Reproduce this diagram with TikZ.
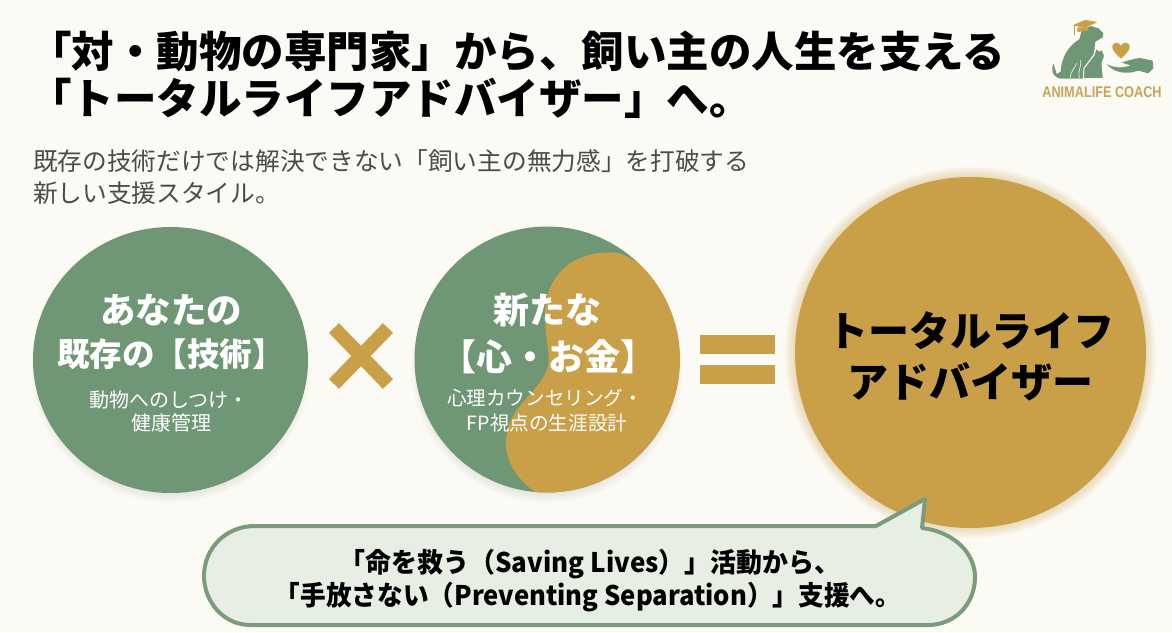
\documentclass[tikz,border=0pt]{standalone}
\usepackage{fontspec}
\usetikzlibrary{shapes.geometric}
\setmainfont{Noto Sans CJK JP}
\newfontfamily\logofont{Liberation Sans}
\newcommand{\fs}[1]{\fontsize{#1}{#1}\selectfont}
\begin{document}
\begin{tikzpicture}[x=1pt,y=1pt,
	disc/.style={ellipse,inner sep=0pt,outer sep=0pt},
	label/.style={inner sep=0pt,outer sep=0pt,anchor=center},
	softshadow/.style={fill=black,fill opacity=0.013},
	halo/.style={fill=goldColor,fill opacity=0.05}]
\definecolor{paperColor}{RGB}{252,250,245}
\definecolor{greenColor}{RGB}{111,151,118}
\definecolor{goldColor}{RGB}{201,160,72}
\definecolor{bubbleColor}{RGB}{231,238,228}
\definecolor{edgeColor}{RGB}{124,155,125}
\definecolor{greyColor}{RGB}{75,75,75}
\definecolor{logoGold}{RGB}{200,164,90}

\path[use as bounding box,fill=paperColor] (0,0) rectangle (1172,632);

% heading
\node[label,anchor=base west] (headone) at (29.00,564.50) {\fs{42.5}\bfseries 「対・動物の専門家」から、飼い主の人生を支える};
\node[label,anchor=base west] (headtwo) at (29.00,517.00) {\fs{42.5}\bfseries 「トータルライフアドバイザー」へ。};
\node[label,anchor=base west,text=greyColor] (subone) at (33.00,461.00) {\fs{24.7}既存の技術だけでは解決できない「飼い主の無力感」を打破する};
\node[label,anchor=base west,text=greyColor] (subtwo) at (33.00,429.00) {\fs{24.7}新しい支援スタイル。};

% shadows
\foreach \r in {0,1.5,...,15} {
	\fill[softshadow] (170.5,265) ellipse ({125+\r} and {121+\r});
	\fill[softshadow] (547,265) circle ({121+\r});
}
\foreach \r in {1,2.5,...,10} {
	\fill[halo] (970.5,279.5) circle ({175.5+\r});
}

% discs
\node[disc,fill=greenColor,minimum width=275pt,minimum height=266pt] (techdisc) at (170.50,272.00) {};
\node[disc,fill=greenColor,minimum width=265pt,minimum height=266pt] (newdisc) at (547.00,272.50) {};
\begin{scope}
\clip (547,272.5) circle (133);
\fill[goldColor] (633,372) .. controls (620,381) and (610,380) .. (600,379)
	.. controls (570,376) and (546,355) .. (545,320)
	.. controls (544,295) and (552,275) .. (547,262)
	.. controls (535,235) and (507,225) .. (506,190)
	.. controls (505,165) and (525,145) .. (543,135)
	-- (700,130) -- (700,372) -- cycle;
\end{scope}
\node[disc,fill=goldColor,minimum width=351pt,minimum height=351pt] (totaldisc) at (970.50,279.50) {};

% times and equals
\draw[goldColor,line width=14pt] (334,304) -- (388,248);
\draw[goldColor,line width=14pt] (334,248) -- (388,304);
\fill[goldColor] (700,278) rectangle (775,297);
\fill[goldColor] (700,248) rectangle (775,267);

% disc texts
\node[label,text=white] (techheadone) at (171.00,322.00) {\fs{35.5}\bfseries あなたの};
\node[label,text=white] (techheadtwo) at (171.00,278.00) {\fs{32.5}\bfseries 既存の【技術】};
\node[label,text=white] (techsubone) at (169.00,232.00) {\fs{20}動物へのしつけ・};
\node[label,text=white] (techsubtwo) at (171.00,209.00) {\fs{20}健康管理};
\node[label,text=white] (newheadone) at (547.00,322.00) {\fs{36}\bfseries 新たな};
\node[label,text=white] (newheadtwo) at (548.00,275.00) {\fs{36}\bfseries 【心・お金】};
\node[label,text=white] (newsubone) at (545.00,234.00) {\fs{19.6}心理カウンセリング・};
\node[label,text=white] (newsubtwo) at (547.00,209.00) {\fs{19.6}FP視点の生涯設計};
\node[label] (totalheadone) at (971.00,301.00) {\fs{41}\bfseries トータルライフ};
\node[label] (totalheadtwo) at (970.00,250.00) {\fs{41}\bfseries アドバイザー};

% speech bubble
\draw[edgeColor,line width=4pt,fill=bubbleColor,line join=round] (255,106) -- (876,106)
	-- (925,133) -- (922,104)
	.. controls (955,100) and (975,78) .. (975,55)
	.. controls (975,28) and (955,7) .. (928,7)
	-- (250,7)
	.. controls (224,7) and (204,30) .. (204,56)
	.. controls (204,84) and (226,106) .. (255,106) -- cycle;
\node[label,xscale=0.96] (bubbleone) at (590.00,67.50) {\fs{27}\bfseries 「命を救う（Saving Lives）」活動から、};
\node[label,xscale=0.95] (bubbletwo) at (588.00,35.00) {\fs{27}\bfseries 「手放さない（Preventing Separation）」支援へ。};

% logo
\begin{scope}[shift={(1020,632)},x=0.3333pt,y=-0.3333pt]
\fill[greenColor] (100,190) .. controls (90,220) and (105,238) .. (130,236) -- (195,236) -- (195,205)
	-- (222,160) -- (226,125) -- (248,112) -- (250,100) -- (235,85) -- (212,78)
	-- (185,92) -- (178,118) .. controls (150,135) and (125,165) .. (122,215)
	-- (110,222) -- cycle;
\draw[paperColor,line width=0.6pt] (150,235) .. controls (150,215) and (165,205) .. (170,190);
\draw[paperColor,line width=0.6pt] (178,235) .. controls (172,215) and (185,200) .. (182,180);
\draw[paperColor,line width=1pt,fill=greenColor] (190,236) -- (192,205) -- (222,165) -- (228,145) -- (238,153) -- (246,148)
	-- (254,168) -- (246,190) -- (250,236) -- cycle;
\fill[goldColor] (158,76) -- (195,60) -- (232,66) -- (195,84) -- cycle;
\fill[goldColor] (172,82) -- (204,82) -- (204,92) -- (172,96) -- cycle;
\draw[goldColor,line width=0.6pt] (162,76) -- (162,104);
\fill[goldColor] (303,176) .. controls (285,160) and (275,148) .. (277,138)
	.. controls (280,125) and (298,125) .. (303,138)
	.. controls (308,125) and (326,125) .. (329,138)
	.. controls (331,148) and (321,160) .. (303,176) -- cycle;
\fill[greenColor] (260,192) .. controls (280,218) and (320,225) .. (355,212)
	-- (385,220) -- (400,205) -- (398,182) -- (360,174)
	.. controls (340,176) and (320,183) .. (305,188) -- (332,196)
	.. controls (305,206) and (280,203) .. (260,192) -- cycle;
\end{scope}
\node[label,text=logoGold,xscale=0.82] (logotext) at (1102.00,540.00) {\fs{15.5}\logofont\bfseries ANIMALIFE COACH};
\end{tikzpicture}
\end{document}
